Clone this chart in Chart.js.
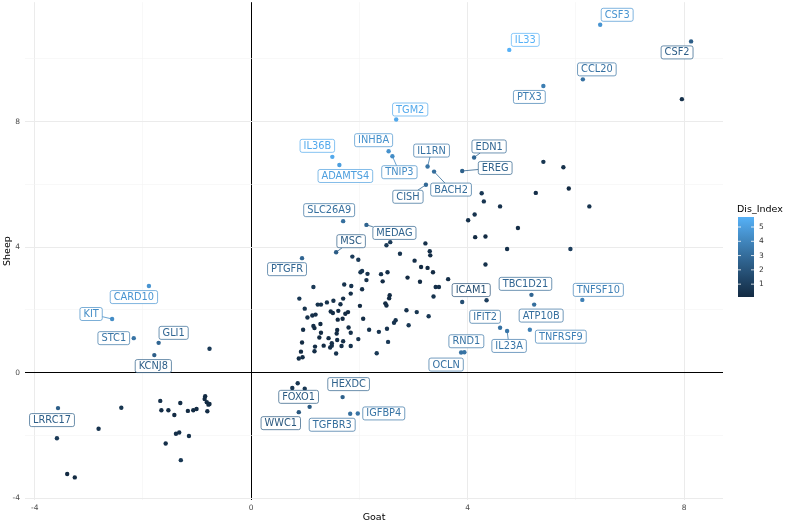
<!DOCTYPE html>
<html><head><meta charset="utf-8">
<script src="https://cdn.jsdelivr.net/npm/chart.js@4/dist/chart.umd.min.js"></script>
<style>html,body{margin:0;padding:0;background:#fff;}canvas{display:block;}</style>
</head><body>
<canvas id="c" width="787" height="523"></canvas>
<script>
// ---- labelled genes ----
const genes = ['CSF3','IL33','CSF2','CCL20','PTX3','TGM2','IL36B','ADAMTS4','INHBA','TNIP3','IL1RN','BACH2','CISH','EDN1','EREG','SLC26A9','MEDAG','MSC','PTGFR','ICAM1','TBC1D21','TNFSF10','ATP10B','IFIT2','IL23A','TNFRSF9','RND1','OCLN','CARD10','KIT','STC1','GLI1','KCNJ8','LRRC17','HEXDC','FOXO1','WWC1','TGFBR3','IGFBP4'];
const goat = [6.45,4.77,8.13,6.13,5.40,2.68,1.50,1.63,2.54,2.61,3.26,3.38,3.23,4.12,3.90,1.70,2.13,1.57,0.94,3.90,5.18,6.12,5.23,4.60,4.73,5.15,3.94,3.88,-1.89,-2.57,-2.17,-1.71,-1.79,-3.57,1.69,1.08,0.88,1.83,1.97];
const sheep = [11.09,10.29,10.56,9.35,9.14,8.07,6.88,6.62,7.06,6.90,6.57,6.41,5.99,6.86,6.43,4.83,4.71,3.84,3.65,2.25,2.48,2.32,2.17,1.43,1.33,1.37,0.65,0.64,2.76,1.71,1.10,0.95,0.56,-1.13,-0.78,-1.09,-1.26,-1.31,-1.30];
const disIndex = [4.6,5.7,2.4,3.2,3.7,5.4,5.4,5.0,4.5,4.3,3.3,3.0,2.8,2.7,2.5,3.1,2.6,2.3,2.7,1.7,2.7,3.8,3.1,3.2,3.4,3.8,3.3,3.2,4.6,4.3,3.3,2.7,2.4,2.4,2.5,2.2,2.1,3.1,3.3];

// ---- unlabelled genes ----
const goatU = [
-0.77,-3.59,-3.40,-3.26,-2.82,-2.40,-1.68,-1.66,-1.53,-1.42,-1.31,-1.39,-1.33,-1.58,-1.15,-1.30,-1.17,-1.07,-1.01,-0.85,-0.86,-0.82,-0.79,-0.77,-0.81,
0.76,0.86,0.99,
7.96,5.40,5.77,5.87,5.26,6.25,4.26,4.30,4.60,4.13,4.01,4.93,4.14,4.33,4.73,5.90,4.33,4.35,
3.22,3.30,3.31,2.50,2.57,2.75,1.87,1.98,3.02,3.14,3.26,3.36,2.02,2.05,2.15,2.40,2.52,2.13,2.43,2.89,3.12,3.64,3.41,3.47,3.37,
1.15,1.72,1.85,2.05,1.84,1.70,2.56,2.55,0.89,0.99,1.23,1.29,1.40,1.52,1.65,2.01,2.48,2.50,2.87,3.06,3.28,
1.47,1.51,1.61,1.74,1.79,1.04,1.13,1.19,1.15,1.28,1.17,1.60,1.69,2.07,2.67,2.64,
0.96,1.29,1.59,1.80,2.18,2.36,2.51,2.91,1.84,1.26,1.43,1.59,1.98,
0.94,1.18,1.34,1.49,1.67,1.84,2.53,0.92,0.88,0.95,1.17,1.57,1.46,2.32,1.70,1.49,1.58];
const sheepU = [
0.76,-2.09,-3.23,-3.34,-1.79,-1.12,-0.90,-1.20,-1.20,-1.35,-0.97,-1.95,-1.91,-2.26,-2.02,-2.79,-1.22,-1.20,-1.16,-0.75,-0.84,-0.94,-1.02,-1.00,-1.23,
-0.49,-0.34,-0.51,
8.72,6.72,6.55,5.87,5.73,5.30,5.72,5.46,5.30,5.04,4.86,4.61,4.32,4.34,3.94,3.94,3.45,2.31,
4.12,3.87,3.74,4.06,4.16,3.79,3.70,3.60,3.57,3.37,3.34,3.20,3.20,3.24,3.15,3.14,3.20,2.95,2.91,3.03,2.90,2.98,2.73,2.73,2.43,
2.73,2.81,2.76,2.66,2.52,2.36,2.47,2.37,2.36,2.04,2.17,2.17,2.24,2.29,2.18,2.13,2.21,2.14,1.99,1.93,1.80,
1.95,1.90,1.97,1.88,1.93,1.76,1.82,1.85,1.49,1.55,1.42,1.69,1.72,1.72,1.67,1.59,
1.37,1.27,1.36,1.44,1.37,1.30,1.40,1.51,1.27,1.12,1.10,1.04,1.07,
0.96,0.83,0.86,0.86,0.85,0.85,0.98,0.67,0.45,0.49,0.68,0.61,0.80,0.62,1.00,0.94,1.25];
const disU = [
0.8,0.8,0.1,0.1,0.5,0.6,0.4,0.2,0.2,0.1,0.2,0.3,0.3,0.3,0.4,0.7,0.1,0.1,0.1,0.1,0.1,0.1,0.1,0.1,0.2,
0.6,0.6,0.7,
0.4,0.6,0.4,0.1,0.3,0.5,0.7,0.6,0.4,0.5,0.4,0.2,0.1,0.1,0.4,1.0,0.4,1.0,
0.4,0.3,0.2,0.8,0.8,0.5,0.9,0.8,0.3,0.1,0.1,0.1,0.6,0.6,0.5,0.4,0.3,0.4,0.2,0.1,0.1,0.3,0.3,0.4,0.5,
0.8,0.5,0.5,0.3,0.3,0.3,0.1,0.1,0.7,0.5,0.5,0.4,0.4,0.4,0.3,0.1,0.1,0.2,0.4,0.6,0.7,
0.2,0.2,0.2,0.1,0.1,0.4,0.3,0.3,0.2,0.1,0.1,0.1,0.1,0.2,0.5,0.5,
0.2,0.1,0.1,0.2,0.4,0.5,0.5,0.7,0.3,0.1,0.2,0.3,0.5,
0.1,0.2,0.2,0.3,0.4,0.5,0.8,0.1,0.2,0.2,0.2,0.5,0.3,0.8,0.3,0.3,0.2];

const xTickLabels = [-4,0,4,8];
const yTickLabels = [-4,0,4,8];
const legendTicks = [1,2,3,4,5];

// ---- layout (label nudges in px, leader-line flags) ----
const labelOffset = [[17,-10],[16,-10],[-14,11],[14,-10],[-14,11],[14,-10],[-15,-11],[6,11],[-15,-11],[7,16],[4,-16],[17,18],[-18,12],[15,-11],[33,-3],[-14,-11],[28,8],[15,-11],[-15,11],[9,-12],[-6,-11],[16,-10],[7,11],[-15,-11],[2,15],[31,7],[2,-11],[-15,12],[-15,11],[-21,-5],[-20,0],[15,-10],[-1,11],[-6,12],[6,-13],[-11,-10],[-18,11],[-18,11],[26,0]];
const leaderGenes = ['EDN1','EREG','BACH2','IL1RN','CISH','TNIP3','MEDAG','MSC','KIT','IL23A'];

// ---- colour scale (ggplot default gradient, Lab interpolation) ----
function s2l(c){c/=255;return c<=0.04045?c/12.92:Math.pow((c+0.055)/1.055,2.4);}
function l2s(c){const v=c<=0.0031308?12.92*c:1.055*Math.pow(c,1/2.4)-0.055;return Math.round(Math.max(0,Math.min(1,v))*255);}
function hex2rgb(h){return [parseInt(h.slice(1,3),16),parseInt(h.slice(3,5),16),parseInt(h.slice(5,7),16)];}
function rgb2lab(rgb){const r=s2l(rgb[0]),g=s2l(rgb[1]),b=s2l(rgb[2]);
  const X=(0.4124564*r+0.3575761*g+0.1804375*b)/0.95047,Y=0.2126729*r+0.7151522*g+0.0721750*b,Z=(0.0193339*r+0.1191920*g+0.9503041*b)/1.08883;
  const f=t=>t>0.008856?Math.cbrt(t):(7.787*t+16/116);const fx=f(X),fy=f(Y),fz=f(Z);
  return [116*fy-16,500*(fx-fy),200*(fy-fz)];}
function lab2rgb(lab){const fy=(lab[0]+16)/116,fx=fy+lab[1]/500,fz=fy-lab[2]/200;
  const fi=t=>{const t3=t*t*t;return t3>0.008856?t3:(t-16/116)/7.787;};
  const X=fi(fx)*0.95047,Y=fi(fy),Z=fi(fz)*1.08883;
  return [l2s(3.2404542*X-1.5371385*Y-0.4985314*Z),l2s(-0.9692660*X+1.8760108*Y+0.0415560*Z),l2s(0.0556434*X-0.2040259*Y+1.0572252*Z)];}
const LOW=rgb2lab(hex2rgb('#132B43')), HIGH=rgb2lab(hex2rgb('#56B1F7'));
const allDis = disIndex.concat(disU);
const dMin = Math.min(...allDis), dMax = Math.max(...allDis);
function colorAt(t){t=Math.max(0,Math.min(1,t));const c=lab2rgb([0,1,2].map(k=>LOW[k]+(HIGH[k]-LOW[k])*t));return `rgb(${c[0]},${c[1]},${c[2]})`;}
function colorFor(d){return colorAt((d-dMin)/(dMax-dMin));}

const FONT='"DejaVu Sans", "Liberation Sans", sans-serif';

function roundRect(ctx,x,y,w,h,r){ctx.moveTo(x+r,y);ctx.lineTo(x+w-r,y);ctx.quadraticCurveTo(x+w,y,x+w,y+r);ctx.lineTo(x+w,y+h-r);ctx.quadraticCurveTo(x+w,y+h,x+w-r,y+h);ctx.lineTo(x+r,y+h);ctx.quadraticCurveTo(x,y+h,x,y+h-r);ctx.lineTo(x,y+r);ctx.quadraticCurveTo(x,y,x+r,y);ctx.closePath();}

const labelPlugin = {
  id:'geneLabels',
  afterDatasetsDraw(chart){
    const ctx=chart.ctx, xs=chart.scales.x, ys=chart.scales.y;
    ctx.save();
    ctx.font='9.8px '+FONT;
    const boxes=genes.map((g,i)=>{
      const px=xs.getPixelForValue(goat[i]), py=ys.getPixelForValue(sheep[i]);
      const cx=px+labelOffset[i][0], cy=py+labelOffset[i][1];
      const w=ctx.measureText(g).width+7, h=13;
      return {g,px,py,cx,cy,w,h,col:colorFor(disIndex[i])};
    });
    boxes.forEach(b=>{
      if(!leaderGenes.includes(b.g)) return;
      const vx=b.px-b.cx, vy=b.py-b.cy;
      const t=Math.min(vx?Math.abs((b.w/2)/vx):1e9, vy?Math.abs((b.h/2)/vy):1e9);
      ctx.beginPath();ctx.moveTo(b.px,b.py);ctx.lineTo(b.cx+vx*t,b.cy+vy*t);
      ctx.strokeStyle=b.col;ctx.lineWidth=0.8;ctx.stroke();
    });
    boxes.forEach(b=>{
      ctx.beginPath();roundRect(ctx,b.cx-b.w/2,b.cy-b.h/2,b.w,b.h,2);
      ctx.fillStyle='#fff';ctx.fill();ctx.lineWidth=0.7;ctx.strokeStyle=b.col;ctx.stroke();
      ctx.fillStyle=b.col;ctx.textAlign='center';ctx.textBaseline='middle';
      ctx.fillText(b.g,b.cx,b.cy+0.5);
    });
    ctx.restore();
  }
};

const legendPlugin = {
  id:'colorbar',
  afterDraw(chart){
    const ctx=chart.ctx;
    const bx=738, bw=16, top=217, bot=297;
    ctx.save();
    ctx.fillStyle='#000';ctx.font='9.5px '+FONT;ctx.textAlign='left';ctx.textBaseline='alphabetic';
    ctx.fillText('Dis_Index',bx-1,212);
    const grad=ctx.createLinearGradient(0,bot,0,top);
    for(let i=0;i<=20;i++){grad.addColorStop(i/20,colorAt(i/20));}
    ctx.fillStyle=grad;ctx.fillRect(bx,top,bw,bot-top);
    ctx.font='7.5px '+FONT;ctx.textBaseline='middle';
    legendTicks.forEach(v=>{
      const y=bot-(v-dMin)/(dMax-dMin)*(bot-top);
      ctx.strokeStyle='#fff';ctx.lineWidth=0.8;
      ctx.beginPath();ctx.moveTo(bx,y);ctx.lineTo(bx+3,y);ctx.moveTo(bx+bw-3,y);ctx.lineTo(bx+bw,y);ctx.stroke();
      ctx.fillStyle='#333';ctx.fillText(String(v),bx+bw+5,y);
    });
    ctx.restore();
  }
};

function gridColor(ctx){const v=ctx.tick.value;if(v===0)return '#000';return (Math.abs(v)%4===0)?'#ebebeb':'#f4f4f4';}
function gridWidth(ctx){const v=ctx.tick.value;if(v===0)return 1;return (Math.abs(v)%4===0)?1:0.6;}
function noPad(s){s.paddingTop=0;s.paddingBottom=0;s.paddingLeft=0;s.paddingRight=0;}

new Chart(document.getElementById('c'),{
  type:'scatter',
  data:{datasets:[
    {data:goatU.map((x,i)=>({x,y:sheepU[i]})),pointRadius:2.2,pointBorderWidth:0,pointBackgroundColor:disU.map(colorFor),pointHoverRadius:2.2},
    {data:goat.map((x,i)=>({x,y:sheep[i]})),pointRadius:2.2,pointBorderWidth:0,pointBackgroundColor:disIndex.map(colorFor),pointHoverRadius:2.2}
  ]},
  options:{
    responsive:false,animation:false,devicePixelRatio:1,
    layout:{padding:{left:0,right:64,top:0,bottom:0}},
    plugins:{legend:{display:false},tooltip:{enabled:false}},
    scales:{
      x:{type:'linear',min:-4.18,max:8.72,
        afterFit:s=>{s.height=23;noPad(s);},
        ticks:{stepSize:2,includeBounds:false,autoSkip:false,maxRotation:0,padding:4,color:'#4d4d4d',font:{family:FONT,size:7.5},
          callback:v=>xTickLabels.includes(v)?String(v):''},
        grid:{color:gridColor,lineWidth:gridWidth,drawTicks:false},
        border:{display:false},
        title:{display:true,text:'Goat',color:'#000',font:{family:FONT,size:9.5,lineHeight:1},padding:{top:0,bottom:1}}},
      y:{type:'linear',min:-4.06,max:11.81,
        afterFit:s=>{s.width=25;noPad(s);},
        ticks:{stepSize:2,includeBounds:false,autoSkip:false,padding:5,color:'#4d4d4d',font:{family:FONT,size:7.5},
          callback:v=>yTickLabels.includes(v)?String(v):''},
        grid:{color:gridColor,lineWidth:gridWidth,drawTicks:false},
        border:{display:false},
        title:{display:true,text:'Sheep',color:'#000',font:{family:FONT,size:9.5,lineHeight:1},padding:{top:3,bottom:0}}}
    }
  },
  plugins:[labelPlugin,legendPlugin]
});
</script>
</body></html>
